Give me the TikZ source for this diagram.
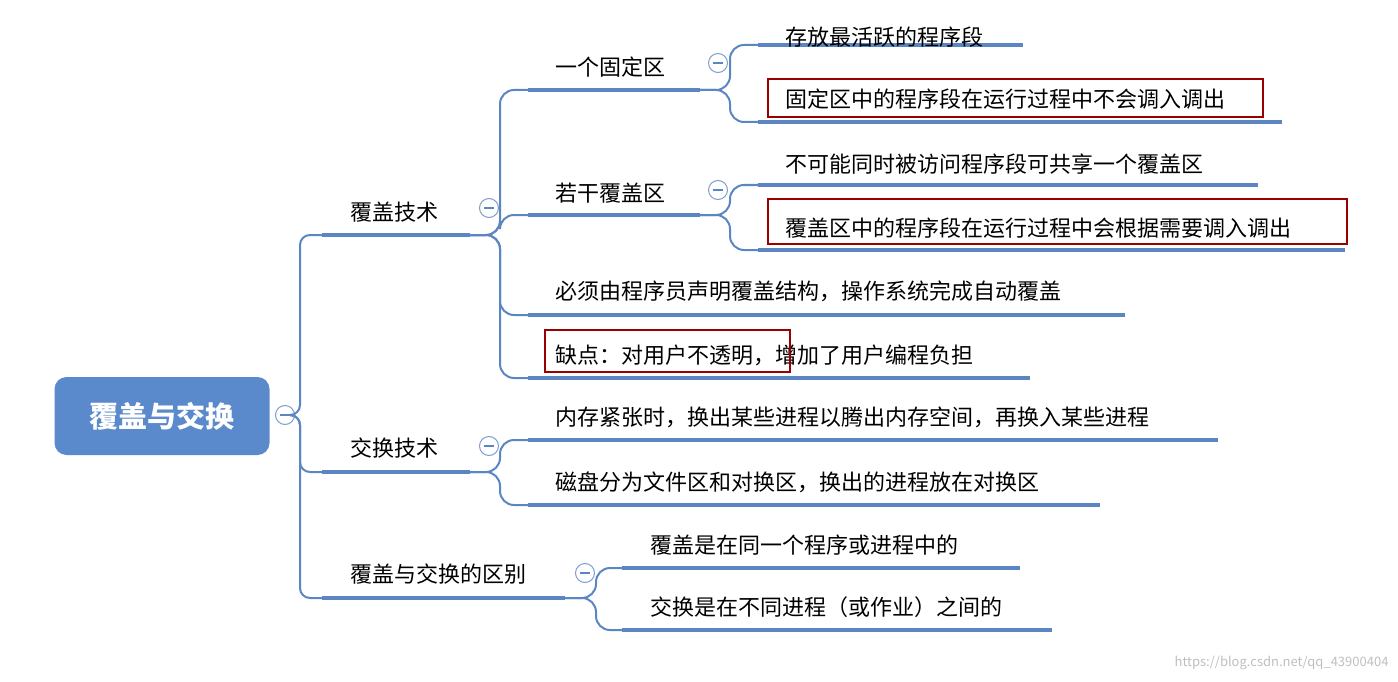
\documentclass[tikz,border=0pt]{standalone}
\usepackage{fontspec}
\setmainfont{Noto Sans CJK SC}
\begin{document}
\begin{tikzpicture}[x=1pt,y=-1pt,
  ul/.style={line width=4pt,color=lnc},
  br/.style={line width=2pt,color=lnc,rounded corners=14pt},
  txt/.style={anchor=south west,inner sep=0pt,font=\fontsize{22}{26}\selectfont,text=black},
  redbox/.style={draw=red!60!black,line width=2.5pt},
  tog/.style={circle,draw=lnc!80,line width=1pt,fill=white,minimum size=19pt,inner sep=0pt,
    path picture={\draw[lnc,line width=1.2pt] ([xshift=-5pt]path picture bounding box.center)--([xshift=5pt]path picture bounding box.center);}}]
\definecolor{lnc}{HTML}{5B86C2}
\definecolor{rootc}{HTML}{5A8ACB}
\useasboundingbox (0,0) rectangle (1398,682);
% root
\node[fill=rootc,rounded corners=12pt,minimum width=215pt,minimum height=78pt,text=white,font=\fontsize{29}{32}\selectfont\bfseries] (root) at (162,416) {覆盖与交换};
\node[tog] (t0) at (285,415) {};
% level 1
\coordinate (a1) at (322,235); \coordinate (a2) at (470,235);
\coordinate (b1) at (322,472); \coordinate (b2) at (470,472);
\coordinate (c1) at (322,598); \coordinate (c2) at (565,598);
\draw[ul] (a1)--(a2); \draw[ul] (b1)--(b2); \draw[ul] (c1)--(c2);
\node[txt] (ta) at (350,222) {覆盖技术};
\node[txt] (tb) at (350,459) {交换技术};
\node[txt] (tc) at (350,585) {覆盖与交换的区别};
\draw[br,rounded corners=10pt] (t0.east) -| (300,235) -- (a1);
\draw[br,rounded corners=10pt] (t0.east) -| (300,598) -- (c1);
\draw[br,rounded corners=10pt] (t0.east) -| (300,472) -- (b1);
\node[tog] (ga) at (489,208) {};
\node[tog] (gb) at (489,446) {};
\node[tog] (gc) at (585,573) {};
% level 2 of 覆盖技术
\coordinate (d1) at (528,90);  \coordinate (d2) at (700,90);
\coordinate (e1) at (528,215); \coordinate (e2) at (700,215);
\coordinate (f1) at (528,315); \coordinate (f2) at (1125,315);
\coordinate (g1) at (528,378); \coordinate (g2) at (1030,378);
\foreach \p/\q in {d1/d2,e1/e2,f1/f2,g1/g2} \draw[ul] (\p)--(\q);
\draw[br] (a2) -- (500,235) |- (d1);
\draw[br] (a2) -- (500,235) |- (e1);
\draw[br] (a2) -- (500,235) |- (f1);
\draw[br] (a2) -- (500,235) |- (g1);
\node[txt] (td) at (555,78) {一个固定区};
\node[txt] (te) at (555,203) {若干覆盖区};
\node[txt] (tf) at (555,302) {必须由程序员声明覆盖结构，操作系统完成自动覆盖};
\node[txt] (tg) at (555,366) {缺点：对用户不透明，增加了用户编程负担};
\draw[redbox] (545,330) rectangle (790,372);
\node[tog] (gd) at (718,63) {};
\node[tog] (ge) at (718,190) {};
% level 3
\coordinate (h1) at (758,45);  \coordinate (h2) at (1023,45);
\coordinate (i1) at (758,122); \coordinate (i2) at (1282,122);
\coordinate (j1) at (758,185); \coordinate (j2) at (1258,185);
\coordinate (k1) at (758,250); \coordinate (k2) at (1345,250);
\foreach \p/\q in {h1/h2,i1/i2,j1/j2,k1/k2} \draw[ul] (\p)--(\q);
\draw[br] (d2) -- (730,90) |- (h1);
\draw[br] (d2) -- (730,90) |- (i1);
\draw[br] (e2) -- (730,215) |- (j1);
\draw[br] (e2) -- (730,215) |- (k1);
\node[txt] (th) at (785,48) {存放最活跃的程序段};
\node[txt] (ti) at (785,110) {固定区中的程序段在运行过程中不会调入调出};
\node[txt] (tj) at (785,175) {不可能同时被访问程序段可共享一个覆盖区};
\node[txt] (tk) at (785,239) {覆盖区中的程序段在运行过程中会根据需要调入调出};
\draw[redbox] (768,79) rectangle (1263,117);
\draw[redbox] (768,199) rectangle (1347,244);
% 交换技术
\coordinate (l1) at (528,440); \coordinate (l2) at (1218,440);
\coordinate (m1) at (528,505); \coordinate (m2) at (1100,505);
\draw[ul] (l1)--(l2); \draw[ul] (m1)--(m2);
\draw[br] (b2) -- (500,472) |- (l1);
\draw[br] (b2) -- (500,472) |- (m1);
\node[txt] (tl) at (555,428) {内存紧张时，换出某些进程以腾出内存空间，再换入某些进程};
\node[txt] (tm) at (555,493) {磁盘分为文件区和对换区，换出的进程放在对换区};
% 区别
\coordinate (n1) at (622,568); \coordinate (n2) at (1020,568);
\coordinate (o1) at (622,630); \coordinate (o2) at (1052,630);
\draw[ul] (n1)--(n2); \draw[ul] (o1)--(o2);
\draw[br] (c2) -- (596,598) |- (n1);
\draw[br] (c2) -- (596,598) |- (o1);
\node[txt] (tn) at (650,556) {覆盖是在同一个程序或进程中的};
\node[txt] (to) at (650,618) {交换是在不同进程（或作业）之间的};
\node[anchor=east,text=black!25,font=\fontsize{13}{15}\selectfont] (wm) at (1392,663) {https://blog.csdn.net/qq\_43900404};
\end{tikzpicture}
\end{document}
